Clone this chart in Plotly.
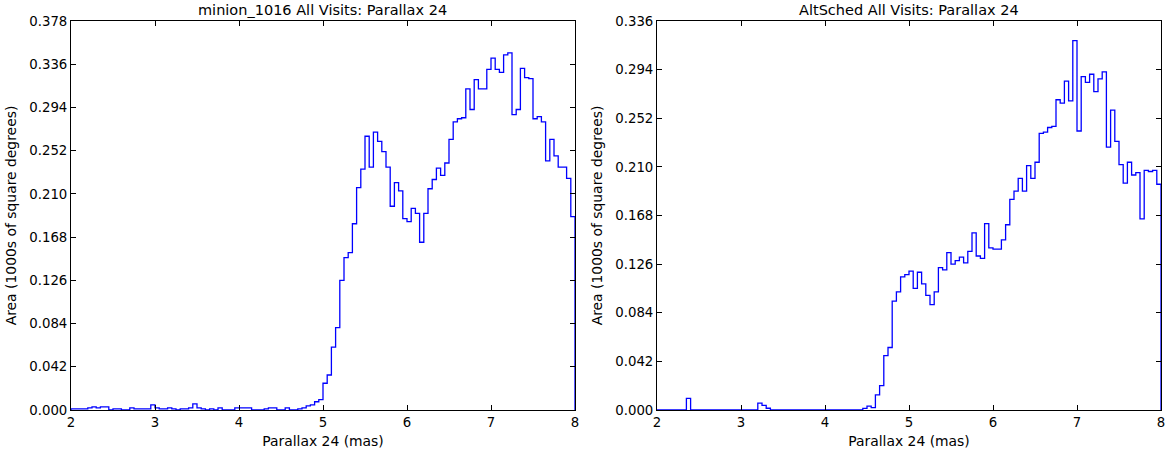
import plotly.graph_objects as go

# bin edges: 2.0 .. 8.0 in 0.05 steps (120 bins)
bin_start = 2.0
bin_width = 0.05
n_bins = 120
edges = [round(bin_start + i * bin_width, 2) for i in range(n_bins + 1)]

minion_values = [
    # 2.0 - 3.0
    0.001, 0.001, 0.001, 0.001, 0.002, 0.003, 0.002, 0.003, 0.003, 0.000,
    0.001, 0.001, 0.000, 0.000, 0.002, 0.001, 0.001, 0.001, 0.001, 0.005,
    # 3.0 - 4.0
    0.002, 0.001, 0.001, 0.002, 0.001, 0.000, 0.001, 0.001, 0.002, 0.006,
    0.002, 0.001, 0.000, 0.001, 0.000, 0.002, 0.000, 0.000, 0.000, 0.002,
    # 4.0 - 5.0
    0.002, 0.002, 0.002, 0.000, 0.000, 0.000, 0.001, 0.002, 0.002, 0.000,
    0.000, 0.002, 0.000, 0.000, 0.001, 0.002, 0.004, 0.005, 0.008, 0.010,
    # 5.0 - 6.0
    0.026, 0.034, 0.061, 0.080, 0.126, 0.148, 0.153, 0.181, 0.216, 0.234,
    0.266, 0.236, 0.270, 0.261, 0.251, 0.236, 0.198, 0.221, 0.213, 0.186,
    # 6.0 - 7.0
    0.183, 0.196, 0.191, 0.163, 0.191, 0.215, 0.224, 0.235, 0.228, 0.240,
    0.263, 0.280, 0.283, 0.284, 0.312, 0.292, 0.321, 0.312, 0.312, 0.331,
    # 7.0 - 8.0
    0.342, 0.331, 0.328, 0.345, 0.347, 0.287, 0.292, 0.332, 0.323, 0.322,
    0.283, 0.285, 0.280, 0.242, 0.263, 0.247, 0.236, 0.236, 0.225, 0.188,
]

altsched_values = [
    # 2.0 - 3.0
    0.000, 0.000, 0.000, 0.000, 0.000, 0.000, 0.000, 0.010, 0.000, 0.000,
    0.000, 0.000, 0.000, 0.000, 0.000, 0.000, 0.000, 0.000, 0.000, 0.000,
    # 3.0 - 4.0
    0.000, 0.000, 0.000, 0.000, 0.006, 0.004, 0.0015, 0.000, 0.000, 0.000,
    0.000, 0.000, 0.000, 0.000, 0.000, 0.000, 0.000, 0.000, 0.000, 0.000,
    # 4.0 - 5.0
    0.000, 0.000, 0.000, 0.000, 0.000, 0.000, 0.000, 0.000, 0.000, 0.0014,
    0.0034, 0.002, 0.013, 0.021, 0.047, 0.054, 0.094, 0.102, 0.115, 0.117,
    # 5.0 - 6.0
    0.120, 0.105, 0.119, 0.109, 0.099, 0.091, 0.102, 0.123, 0.121, 0.136,
    0.126, 0.129, 0.132, 0.127, 0.137, 0.153, 0.133, 0.131, 0.161, 0.140,
    # 6.0 - 7.0
    0.139, 0.139, 0.147, 0.160, 0.182, 0.189, 0.200, 0.189, 0.211, 0.200,
    0.214, 0.239, 0.240, 0.244, 0.245, 0.268, 0.265, 0.284, 0.267, 0.319,
    # 7.0 - 8.0
    0.241, 0.288, 0.283, 0.290, 0.275, 0.286, 0.292, 0.227, 0.259, 0.232,
    0.212, 0.196, 0.214, 0.203, 0.205, 0.165, 0.207, 0.206, 0.207, 0.195,
]

titles = ["minion_1016 All Visits: Parallax 24", "AltSched All Visits: Parallax 24"]
x_label = "Parallax 24 (mas)"
y_label = "Area (1000s of square degrees)"
x_ticks = [2, 3, 4, 5, 6, 7, 8]
y_ticks_left = [0.000, 0.042, 0.084, 0.126, 0.168, 0.210, 0.252, 0.294, 0.336, 0.378]
y_ticks_right = [0.000, 0.042, 0.084, 0.126, 0.168, 0.210, 0.252, 0.294, 0.336]

W, H = 1175, 459
font_family = "DejaVu Sans, Liberation Sans, sans-serif"

fig = go.Figure()


def step_xy(values):
    xs = [edges[0]] + edges
    ys = [0] + list(values) + [0]
    return xs, ys


for i, vals in enumerate([minion_values, altsched_values]):
    xs, ys = step_xy(vals)
    fig.add_trace(go.Scatter(
        x=xs, y=ys, mode="lines", line=dict(shape="hv", color="#0000ff", width=1.3),
        xaxis="x" if i == 0 else "x2", yaxis="y" if i == 0 else "y2",
        showlegend=False, hoverinfo="skip",
    ))

x_dom_l = [71 / W, 575 / W]
x_dom_r = [657 / W, 1161 / W]
y_dom = [(H - 410) / H, (H - 21) / H]

axis_common = dict(
    showline=True, linecolor="black", linewidth=1, mirror="ticks",
    ticks="inside", ticklen=5, tickwidth=1, tickcolor="black",
    showgrid=False, zeroline=False, automargin=False,
    tickfont=dict(family=font_family, size=13.3, color="black"),
    title_font=dict(family=font_family, size=13.9, color="black"),
)

fig.update_layout(
    template="none",
    width=W, height=H,
    margin=dict(l=0, r=0, t=0, b=0),
    paper_bgcolor="white", plot_bgcolor="white",
    xaxis=dict(domain=x_dom_l, range=[2, 8], tickvals=x_ticks, anchor="y",
               title=dict(text=x_label, standoff=7), **axis_common),
    yaxis=dict(domain=y_dom, range=[0, 0.378], tickvals=y_ticks_left, tickformat=".3f", anchor="x",
               title=dict(text=y_label, standoff=9), **axis_common),
    xaxis2=dict(domain=x_dom_r, range=[2, 8], tickvals=x_ticks, anchor="y2",
                title=dict(text=x_label, standoff=7), **axis_common),
    yaxis2=dict(domain=y_dom, range=[0, 0.336], tickvals=y_ticks_right, tickformat=".3f", anchor="x2",
                title=dict(text=y_label, standoff=9), **axis_common),
)

for dom, t in zip([x_dom_l, x_dom_r], titles):
    fig.add_annotation(
        text=t, x=(dom[0] + dom[1]) / 2, y=(H - 10) / H, xref="paper", yref="paper",
        showarrow=False, xanchor="center", yanchor="middle",
        font=dict(family=font_family, size=14.5, color="black"),
    )

fig.write_html("out.html")
